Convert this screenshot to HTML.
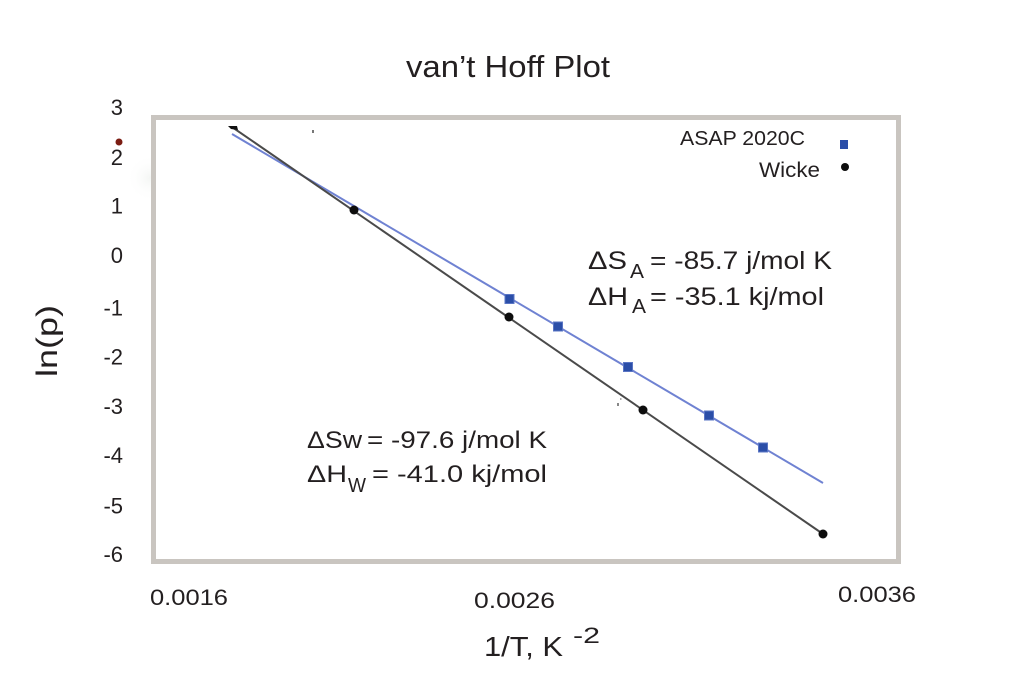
<!DOCTYPE html>
<html>
<head>
<meta charset="utf-8">
<style>
  html, body { margin:0; padding:0; background:#ffffff; }
  body { width:1024px; height:686px; overflow:hidden; }
  svg { display:block; }
  text { font-family: "Liberation Sans", "DejaVu Sans", sans-serif; fill:#231f20; }
</style>
</head>
<body>
<svg width="1024" height="686" viewBox="0 0 1024 686" xmlns="http://www.w3.org/2000/svg">
  <defs>
    <radialGradient id="blob" cx="50%" cy="50%" r="50%">
      <stop offset="0%" stop-color="#f4f6f4"/>
      <stop offset="100%" stop-color="#ffffff" stop-opacity="0"/>
    </radialGradient>
  </defs>
  <rect x="0" y="0" width="1024" height="686" fill="#ffffff"/>

  <!-- faint blob -->
  <circle cx="150" cy="178" r="24" fill="url(#blob)"/>

  <!-- title -->
  <text x="406" y="77" font-size="31" textLength="204" lengthAdjust="spacingAndGlyphs">van’t Hoff Plot</text>

  <!-- plot frame -->
  <rect x="153.5" y="117.5" width="745" height="444" fill="#ffffff" stroke="#c9c5c0" stroke-width="5"/>

  <!-- y tick labels -->
  <g font-size="22" text-anchor="end">
    <text x="123" y="115">3</text>
    <text x="123" y="165">2</text>
    <text x="123" y="213.5">1</text>
    <text x="123" y="263">0</text>
    <text x="123" y="315.5">-1</text>
    <text x="123" y="364.5">-2</text>
    <text x="123" y="414">-3</text>
    <text x="123" y="463">-4</text>
    <text x="123" y="513.5">-5</text>
    <text x="123" y="562">-6</text>
  </g>
  <circle cx="119" cy="142" r="3.5" fill="#7b1c12"/>

  <!-- y axis title -->
  <text transform="translate(57,377) rotate(-90)" font-size="30" textLength="72" lengthAdjust="spacingAndGlyphs">ln(p)</text>

  <!-- x tick labels -->
  <text x="150" y="605" font-size="22" textLength="78" lengthAdjust="spacingAndGlyphs">0.0016</text>
  <text x="474" y="608" font-size="22" textLength="81" lengthAdjust="spacingAndGlyphs">0.0026</text>
  <text x="838" y="602" font-size="22" textLength="78" lengthAdjust="spacingAndGlyphs">0.0036</text>

  <!-- x axis title -->
  <text x="484" y="656" font-size="28" textLength="79" lengthAdjust="spacingAndGlyphs">1/T, K</text>
  <text x="573" y="643" font-size="22" textLength="27" lengthAdjust="spacingAndGlyphs">-2</text>

  <!-- fitted lines -->
  <line x1="232" y1="134" x2="823" y2="483" stroke="#6f82d2" stroke-width="2"/>
  <line x1="232" y1="127" x2="823" y2="534" stroke="#4a4a4a" stroke-width="2"/>

  <!-- start marker -->
  <path d="M228 126 L237 126 L238 130 L231 129 Z" fill="#111"/>

  <!-- specks -->
  <rect x="312" y="130" width="2" height="3" fill="#777"/>
  <rect x="617" y="403" width="2" height="3" fill="#888"/>
  <rect x="620" y="398" width="1.5" height="2" fill="#aaa"/>

  <!-- Wicke points -->
  <g fill="#0d0d0d">
    <circle cx="354" cy="210" r="4.5"/>
    <circle cx="509" cy="317" r="4.5"/>
    <circle cx="643" cy="410" r="4.5"/>
    <circle cx="823" cy="534" r="4.5"/>
  </g>

  <!-- ASAP points -->
  <g fill="#2b4ea8" stroke="#5a75c4" stroke-width="1">
    <rect x="505" y="294.5" width="9" height="9"/>
    <rect x="553.5" y="322" width="9" height="9"/>
    <rect x="623.5" y="362.5" width="9" height="9"/>
    <rect x="704.5" y="411" width="9" height="9"/>
    <rect x="758.5" y="443" width="9" height="9"/>
  </g>

  <!-- legend -->
  <text x="680" y="145" font-size="20" textLength="125" lengthAdjust="spacingAndGlyphs">ASAP 2020C</text>
  <rect x="840" y="140" width="8" height="9" fill="#2b4ea8"/>
  <text x="759" y="177" font-size="21" textLength="61" lengthAdjust="spacingAndGlyphs">Wicke</text>
  <circle cx="845" cy="167" r="4" fill="#0d0d0d"/>

  <!-- ASAP annotations -->
  <text x="588" y="269" font-size="25" textLength="39" lengthAdjust="spacingAndGlyphs">ΔS</text>
  <text x="630" y="278" font-size="20" textLength="14" lengthAdjust="spacingAndGlyphs">A</text>
  <text x="650" y="269" font-size="25" textLength="182" lengthAdjust="spacingAndGlyphs">= -85.7 j/mol K</text>

  <text x="588" y="305" font-size="25" textLength="40" lengthAdjust="spacingAndGlyphs">ΔH</text>
  <text x="632" y="313" font-size="20" textLength="14" lengthAdjust="spacingAndGlyphs">A</text>
  <text x="650" y="305" font-size="25" textLength="174" lengthAdjust="spacingAndGlyphs">= -35.1 kj/mol</text>

  <!-- Wicke annotations -->
  <text x="307" y="448" font-size="24" textLength="55" lengthAdjust="spacingAndGlyphs">ΔSw</text>
  <text x="367" y="448" font-size="24" textLength="180" lengthAdjust="spacingAndGlyphs">= -97.6 j/mol K</text>

  <text x="307" y="482" font-size="24" textLength="40" lengthAdjust="spacingAndGlyphs">ΔH</text>
  <text x="348" y="492" font-size="20" textLength="18" lengthAdjust="spacingAndGlyphs">W</text>
  <text x="372" y="482" font-size="24" textLength="175" lengthAdjust="spacingAndGlyphs">= -41.0 kj/mol</text>
</svg>
</body>
</html>
